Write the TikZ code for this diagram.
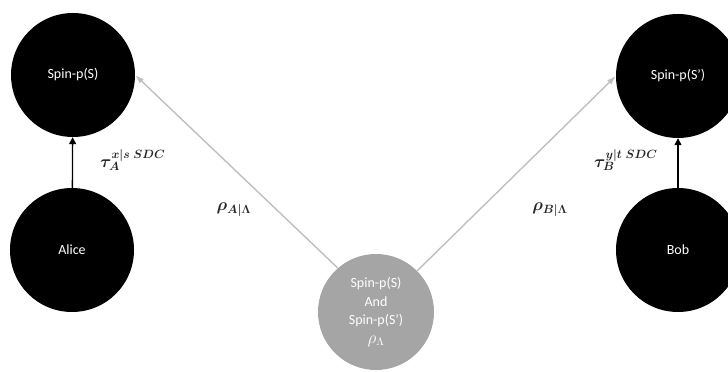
\documentclass[tikz,border=0pt]{standalone}
\usepackage{fontspec}
\setmainfont{Carlito}
\usetikzlibrary{arrows.meta}
\definecolor{midgray}{HTML}{A5A5A5}
\definecolor{linegray}{HTML}{BFBFBF}
\definecolor{mathgray}{HTML}{262626}
\begin{document}
\begin{tikzpicture}[x=1pt,y=1pt,
  blackball/.style={circle,fill=black,text=white,minimum size=124pt,inner sep=0pt,font=\fontsize{14}{17}\selectfont},
  grayball/.style={circle,fill=midgray,text=white,minimum size=116pt,inner sep=0pt,align=center,font=\fontsize{14}{18.5}\selectfont},
  blackarrow/.style={line width=1.3pt,-{Triangle[length=7pt,width=7pt]}},
  grayarrow/.style={draw=linegray,line width=1.4pt,-{Latex[length=9pt,width=6pt]}},
  lbl/.style={inner sep=0pt,text=mathgray,font=\fontsize{18}{20}\selectfont\boldmath}]
\useasboundingbox (0,0) rectangle (728,372);
\node[blackball] (s1) at (73,297) {Spin-p(S)};
\node[blackball] (s2) at (678,296) {Spin-p(S’)};
\node[blackball] (alice) at (72,122) {Alice};
\node[blackball] (bob) at (678,122) {Bob};
\node[grayball] (mid) at (376,60) {Spin-p(S)\\And\\Spin-p(S’)\\{\fontsize{16}{18.5}\selectfont$\rho_\Lambda$}};
\draw[blackarrow] (alice) -- (s1);
\draw[blackarrow] (bob) -- (s2);
\draw[grayarrow] (mid.131) -- (s1.east);
\draw[grayarrow] (mid.45) -- (s2.west);
\node[lbl,anchor=west] (ta) at (100,212) {$\tau_A^{x|s\;SDC}$};
\node[lbl,anchor=west] (tb) at (594,212) {$\tau_B^{y|t\;SDC}$};
\node[lbl] (ra) at (234,162) {$\rho_{A|\Lambda}$};
\node[lbl] (rb) at (550,162) {$\rho_{B|\Lambda}$};
\end{tikzpicture}
\end{document}
